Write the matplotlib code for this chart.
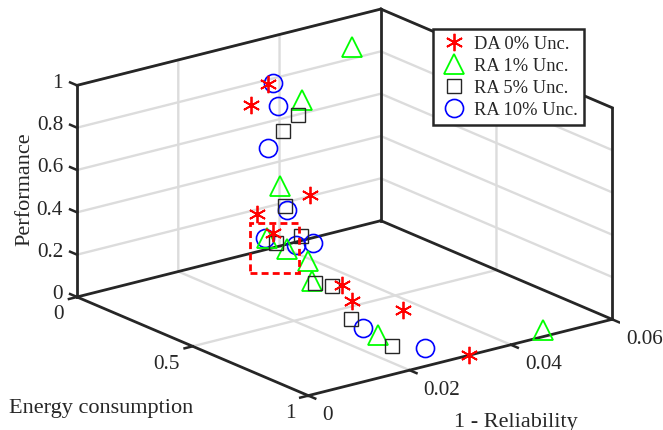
import numpy as np
import matplotlib
matplotlib.use('Agg')
import matplotlib.pyplot as plt
from mpl_toolkits.mplot3d import proj3d

plt.rcParams['font.family'] = ['Liberation Serif', 'DejaVu Serif']

# energy consumption, 1 - reliability, performance
da_energy = [0.231, 0.270, 0.397, 0.299, 0.310, 0.481, 0.532, 0.671, 1.000]
da_unrel = [0.0272, 0.0220, 0.0279, 0.0219, 0.0245, 0.0304, 0.0300, 0.0338, 0.0318]
da_perf = [0.95, 0.90, 0.50, 0.40, 0.30, 0.10, 0.05, 0.05, 0.00]

ra1_energy = [0.196, 0.319, 0.292, 0.265, 0.299, 0.342, 0.408, 0.750, 0.986]
ra1_unrel = [0.0453, 0.0299, 0.0268, 0.0254, 0.0278, 0.0300, 0.0278, 0.0252, 0.0469]
ra1_perf = [1.00, 0.90, 0.50, 0.25, 0.20, 0.15, 0.10, 0.02, 0.02]

ra5_energy = [0.341, 0.352, 0.360, 0.374, 0.311, 0.426, 0.472, 0.604, 0.829]
ra5_unrel = [0.0281, 0.0246, 0.0247, 0.0272, 0.0251, 0.0276, 0.0288, 0.0265, 0.0244]
ra5_perf = [0.85, 0.80, 0.45, 0.30, 0.25, 0.10, 0.10, 0.02, 0.01]

ra10_energy = [0.300, 0.316, 0.301, 0.321, 0.302, 0.356, 0.370, 0.681, 0.894]
ra10_unrel = [0.0250, 0.0253, 0.0240, 0.0268, 0.0233, 0.0270, 0.0297, 0.0254, 0.0279]
ra10_perf = [1.00, 0.90, 0.70, 0.40, 0.28, 0.25, 0.25, 0.02, 0.01]

energy_ticks = [0, 0.5, 1]
unrel_ticks = [0, 0.02, 0.04, 0.06]
perf_ticks = [0, 0.2, 0.4, 0.6, 0.8, 1]

W, H = 663, 430
DARK = '#262626'
GRID = '#dcdcdc'
fig = plt.figure(figsize=(W / 100, H / 100), dpi=100)
S = 567
ax = fig.add_axes([53.4 / W, -63.5 / H, S / W, S / H], projection='3d', proj_type='ortho')
ax.computed_zorder = False
ax.view_init(elev=19.1, azim=-37.5)
ax.set_box_aspect((380, 383, 224))
ax.set_axis_off()

# grid on the two back walls and the floor
for z in perf_ticks[1:]:
    ax.plot([0, 0, 1], [0, 0.06, 0.06], [z, z, z], color=GRID, lw=1.7, zorder=1)
for y in unrel_ticks[1:-1]:
    ax.plot([1, 0, 0], [y, y, y], [0, 0, 1], color=GRID, lw=1.7, zorder=1)
for x in energy_ticks[1:-1]:
    ax.plot([x, x, x], [0, 0.06, 0.06], [0, 0, 1], color=GRID, lw=1.7, zorder=1)

# box, only the back edges
edges = [([0, 1], [0, 0], [0, 0]), ([1, 1], [0, 0.06], [0, 0]),
         ([0, 0], [0, 0.06], [0, 0]), ([0, 1], [0.06, 0.06], [0, 0]),
         ([0, 0], [0, 0], [0, 1]), ([0, 0], [0.06, 0.06], [0, 1]),
         ([1, 1], [0.06, 0.06], [0, 1]), ([0, 0], [0, 0.06], [1, 1]),
         ([0, 1], [0.06, 0.06], [1, 1])]
for ex, ey, ez in edges:
    ax.plot(ex, ey, ez, color=DARK, lw=2.0, zorder=2)

# tick marks
for x in energy_ticks:
    ax.plot([x, x], [0, -0.0016], [0, 0], color=DARK, lw=1.8, zorder=2)
for y in unrel_ticks:
    ax.plot([1, 1.03], [y, y], [0, 0], color=DARK, lw=1.8, zorder=2)
for z in perf_ticks:
    ax.plot([0, -0.03], [0, 0], [z, z], color=DARK, lw=1.8, zorder=2)

ax.plot(da_energy, da_unrel, da_perf, ls='none', marker=(6, 2, 0), ms=12.5, mew=1.3,
        color='#ff0000', zorder=6, label='DA 0% Unc.')
ax.plot(ra1_energy, ra1_unrel, ra1_perf, ls='none', marker='^', ms=15, mew=1.3, mfc='none',
        color='#00ff00', zorder=4, label='RA 1% Unc.')
ax.plot(ra5_energy, ra5_unrel, ra5_perf, ls='none', marker='s', ms=10, mew=1.0, mfc='none',
        color=DARK, zorder=5, label='RA 5% Unc.')
ax.plot(ra10_energy, ra10_unrel, ra10_perf, ls='none', marker='o', ms=13, mew=1.2, mfc='none',
        color='#0000ff', zorder=3, label='RA 10% Unc.')

ax.set_xlim(0, 1)
ax.set_ylim(0, 0.06)
ax.set_zlim(0, 1)


def tick_label(x, y, z, text, dx, dy, ha):
    px, py, _ = proj3d.proj_transform(x, y, z, ax.get_proj())
    ax.annotate(text, (px, py), xytext=(dx, dy), textcoords='offset pixels',
                ha=ha, va='center', fontsize=15.3, color=DARK)


for x in energy_ticks:
    tick_label(x, 0, 0, f'{x:g}', -13, -18, 'right')
for y in unrel_ticks:
    tick_label(1, y, 0, f'{y:g}', 14, -20, 'left')
for z in perf_ticks:
    tick_label(0, 0, z, f'{z:g}', -14, 2, 'right')

fig.text(101 / W, 1 - 408 / H, 'Energy consumption', ha='center', va='center', fontsize=16, color=DARK)
fig.text(516 / W, 1 - 422 / H, '1 - Reliability', ha='center', va='center', fontsize=16, color=DARK)
fig.text(25 / W, 1 - 189 / H, 'Performance', ha='center', va='center', rotation=90, fontsize=16, color=DARK)

# dashed selection box
fig.add_artist(plt.Rectangle((250 / W, 1 - 273 / H), 49 / W, 50 / H, transform=fig.transFigure,
                             fill=False, ec='#ff0000', lw=2, ls=(0, (2.5, 1.5)), zorder=7))

leg = ax.legend(loc='upper left', bbox_to_anchor=(433 / W, 1 - 29.5 / H), bbox_transform=fig.transFigure,
                borderaxespad=0, fontsize=13.3, numpoints=1, fancybox=False, framealpha=1,
                edgecolor=DARK, handlelength=1.57, handletextpad=0.3, labelspacing=0.27, borderpad=0.35)
leg.get_frame().set_linewidth(1.8)
leg.set_zorder(8)
for t in leg.get_texts():
    t.set_color(DARK)

fig.savefig('out.png', dpi=100)
